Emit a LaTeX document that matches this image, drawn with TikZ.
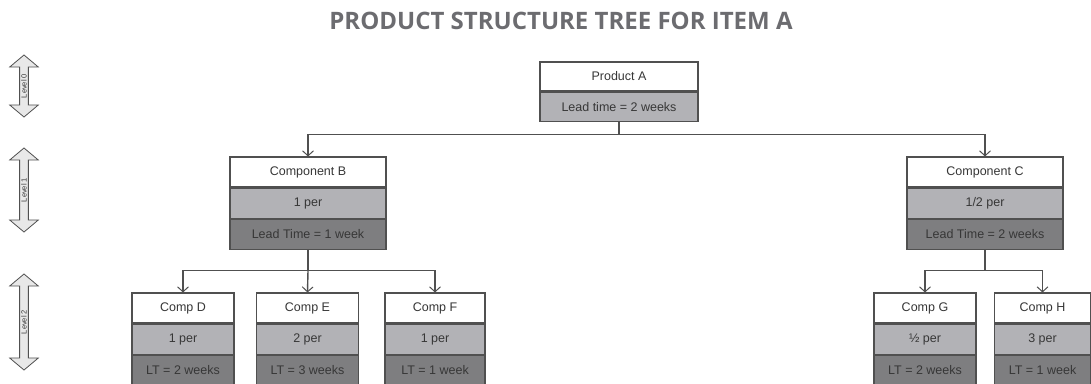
\documentclass[tikz,border=0pt]{standalone}
\usepackage{fontspec}
\setmainfont{Liberation Sans}
\newfontfamily\titlefont{Open Sans}
\usetikzlibrary{positioning,arrows.meta,shapes.arrows}

\definecolor{edgegrey}{RGB}{80,80,80}
\definecolor{textgrey}{RGB}{55,55,55}
\definecolor{midgrey}{RGB}{178,178,182}
\definecolor{lowgrey}{RGB}{126,126,128}
\definecolor{titlegrey}{RGB}{108,108,112}
\definecolor{levelfill}{RGB}{232,232,232}

\tikzset{
  cell/.style={draw=edgegrey, line width=1.1pt, text=textgrey, inner sep=0pt,
    font=\fontsize{12.5}{12.5}\selectfont},
  toprow/.style={cell, fill=white},
  midrow/.style={cell, fill=midgrey},
  lowrow/.style={cell, fill=lowgrey},
  link/.style={draw=edgegrey, line width=1.4pt},
  feed/.style={link, -{Straight Barb[length=5pt,width=11pt,line width=1pt]}},
  levelarrow/.style={double arrow, draw=edgegrey, fill=levelfill, line width=0.8pt,
    rotate=90, double arrow head extend=10pt, double arrow tip angle=100, inner sep=1.2pt,
    font=\fontsize{7.5}{7.5}\selectfont, text=textgrey},
}

\begin{document}
\begin{tikzpicture}[x=1pt,y=-1pt]
  \useasboundingbox (0,0) rectangle (1091,383);
  % title
  \node[font=\titlefont\bfseries\fontsize{24}{24}\selectfont, text=titlegrey] (title) at (561,21) {PRODUCT STRUCTURE TREE FOR ITEM A};
  % level markers
  \node[levelarrow, minimum height=62pt] (lev0) at (24,86) {Level 0};
  \node[levelarrow, minimum height=84pt] (lev1) at (24,190) {Level 1};
  \node[levelarrow, minimum height=96pt] (lev2) at (24,322) {Level 2};
  % level 0
  \node[toprow, minimum width=158pt, minimum height=29pt] (A1) at (619,76.5) {Product A};
  \node[midrow, minimum width=158pt, minimum height=29pt, below=0pt of A1] (A2) {Lead time = 2 weeks};
  % level 1
  \node[toprow, minimum width=156pt, minimum height=30pt] (B1) at (308,172) {Component B};
  \node[midrow, minimum width=156pt, minimum height=30pt, below=0pt of B1] (B2) {1 per};
  \node[lowrow, minimum width=156pt, minimum height=30pt, below=0pt of B2] (B3) {Lead Time = 1 week};
  \node[toprow, minimum width=156pt, minimum height=30pt] (C1) at (985,172) {Component C};
  \node[midrow, minimum width=156pt, minimum height=30pt, below=0pt of C1] (C2) {1/2 per};
  \node[lowrow, minimum width=156pt, minimum height=30pt, below=0pt of C2] (C3) {Lead Time = 2 weeks};
  % level 2
  \foreach \name/\x/\w/\title/\per/\lt in {D/183/102/Comp D/1 per/LT = 2 weeks,
      E/307.5/102/Comp E/2 per/LT = 3 weeks,
      F/435/100/Comp F/1 per/LT = 1 week,
      G/925/102/Comp G/½ per/LT = 2 weeks,
      H/1042.5/96/Comp H/3 per/LT = 1 week}{
    \node[toprow, minimum width=\w pt, minimum height=30pt] (\name1) at (\x,308) {\title};
    \node[midrow, minimum width=\w pt, minimum height=30pt, below=0pt of \name1] (\name2) {\per};
    \node[lowrow, minimum width=\w pt, minimum height=30pt, below=0pt of \name2] (\name3) {\lt};
  }
  % connectors
  \draw[link] (A2.south) -- ++(0,13) coordinate (jA);
  \draw[feed] (jA) -| (B1.north);
  \draw[feed] (jA) -| (C1.north);
  \draw[link] (B3.south) -- ++(0,21) coordinate (jB);
  \draw[feed] (jB) -| (D1.north);
  \draw[feed] (jB) -- (E1.north);
  \draw[feed] (jB) -| (F1.north);
  \draw[link] (C3.south) -- ++(0,21) coordinate (jC);
  \draw[feed] (jC) -| (G1.north);
  \draw[feed] (jC) -| (H1.north);
\end{tikzpicture}
\end{document}
